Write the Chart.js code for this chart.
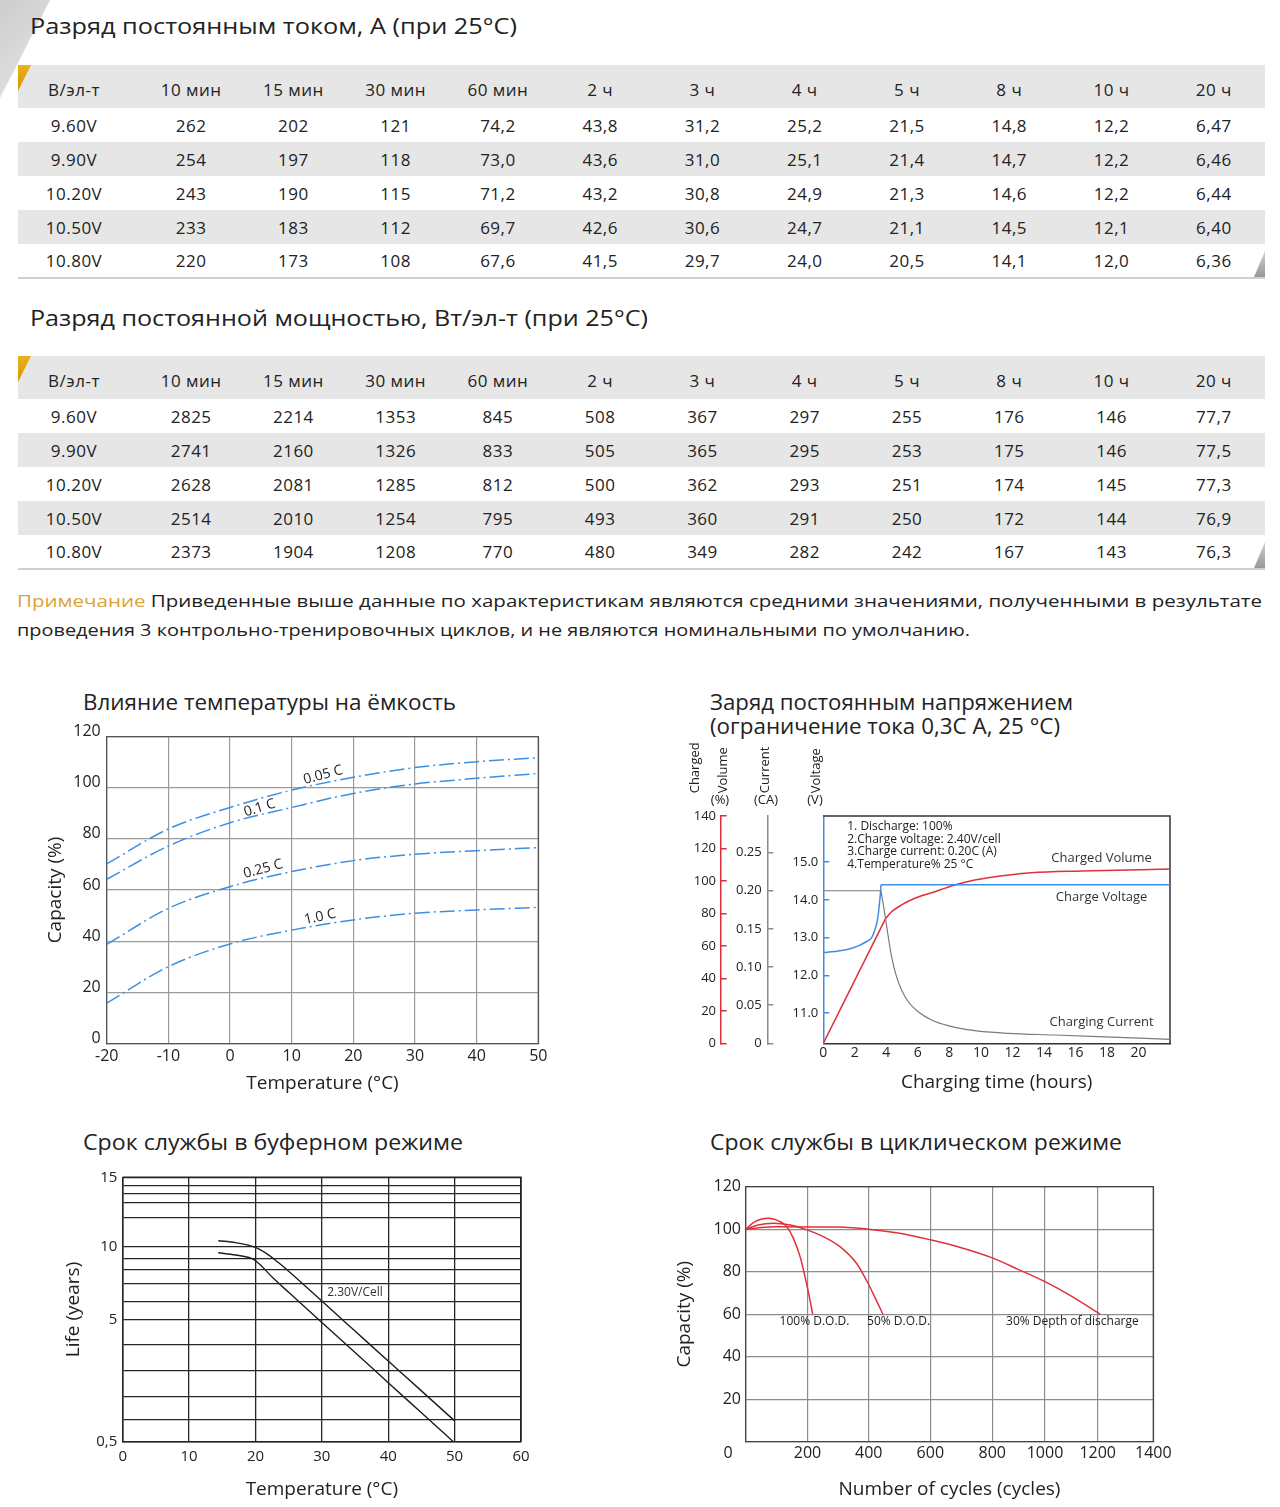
<!DOCTYPE html>
<html lang="ru">
<head>
<meta charset="utf-8">
<title>Разрядные и зарядные характеристики</title>
<script src="https://cdn.jsdelivr.net/npm/chart.js@4.4.1/dist/chart.umd.min.js"></script>
<style>
  html, body { margin: 0; padding: 0; }
  body {
    width: 1280px; height: 1507px; position: relative; overflow: hidden;
    background: #fff; color: #222; font-family: 'Open Sans', sans-serif;
  }
  .txt { position: absolute; white-space: nowrap; line-height: 1; transform-origin: 0 50%; }
  .h1 { font-size: 21px; }
  .note { font-size: 17px; }
  .note span { color: #d9a43a; }
  .corner { position: absolute; left: 0; top: 0; width: 50px; height: 98px;
    background: linear-gradient(135deg, #cdcdcd, #e6e6e6); clip-path: polygon(0 0, 100% 0, 0 100%); }
  .gold { position: absolute; left: 18px; width: 13px; height: 26px;
    background: linear-gradient(180deg, #eab21c, #d39600); clip-path: polygon(0 0, 100% 0, 0 100%); }
  .tail { position: absolute; left: 1254px; width: 11px; height: 26px;
    background: linear-gradient(180deg, #d0d0d0, #979797); clip-path: polygon(100% 0, 100% 100%, 0 100%); }
  table.grid { position: absolute; left: 18px; width: 1247px; border-collapse: collapse;
    table-layout: fixed; font-size: 17px; letter-spacing: 0.5px; }
  table.grid th, table.grid td { text-align: center; font-weight: normal; padding: 0; white-space: nowrap; }
  table.grid tr.head { height: 43px; }
  table.grid tr.head th { background: #e6e6e6; padding-top: 5px; }
  table.grid tbody tr { height: 34px; }
  table.grid tbody tr:nth-child(even) td { background: #e6e6e6; }
  table.grid tbody tr:last-child td { border-bottom: 2px solid #d0d0d0; }
  table.grid .first { padding-right: 10px; }
  canvas { position: absolute; }
</style>
</head>
<body>
<div class="corner"></div>

<div class="txt h1" style="left:30px; top:16px" data-w="487">Разряд постоянным током, А (при 25°C)</div>
<table class="grid" id="tblCurrent" style="top:65px"></table>
<div class="gold" style="top:65px"></div>
<div class="tail" style="top:251px"></div>

<div class="txt h1" style="left:30px; top:308px" data-w="618">Разряд постоянной мощностью, Вт/эл-т (при 25°C)</div>
<table class="grid" id="tblPower" style="top:356px"></table>
<div class="gold" style="top:356px"></div>
<div class="tail" style="top:542px"></div>

<div class="txt note" style="left:17px; top:592px" data-w="1245"><span>Примечание</span> Приведенные выше данные по характеристикам являются средними значениями, полученными в результате</div>
<div class="txt note" style="left:17px; top:621px" data-w="953">проведения 3 контрольно-тренировочных циклов, и не являются номинальными по умолчанию.</div>

<div class="txt h1" style="left:83px; top:692px" data-w="373">Влияние температуры на ёмкость</div>
<div class="txt h1" style="left:710px; top:692px" data-w="363">Заряд постоянным напряжением</div>
<div class="txt h1" style="left:710px; top:716px" data-w="350">(ограничение тока 0,3С А, 25 °С)</div>
<div class="txt h1" style="left:83px; top:1132px" data-w="380">Срок службы в буферном режиме</div>
<div class="txt h1" style="left:710px; top:1132px" data-w="412">Срок службы в циклическом режиме</div>

<canvas id="tempChart" width="520" height="380" style="left:40px; top:720px"></canvas>
<canvas id="chargeChart" width="500" height="360" style="left:680px; top:740px"></canvas>
<canvas id="floatChart" width="500" height="345" style="left:40px; top:1160px"></canvas>
<canvas id="cycleChart" width="510" height="335" style="left:670px; top:1170px"></canvas>

<script>
// ---- tables ----
const headCells = ['В/эл-т', '10 мин', '15 мин', '30 мин', '60 мин', '2 ч', '3 ч', '4 ч', '5 ч', '8 ч', '10 ч', '20 ч'];
const endVoltages = ['9.60V', '9.90V', '10.20V', '10.50V', '10.80V'];
const currentA = [
    ['262', '202', '121', '74,2', '43,8', '31,2', '25,2', '21,5', '14,8', '12,2', '6,47'],
    ['254', '197', '118', '73,0', '43,6', '31,0', '25,1', '21,4', '14,7', '12,2', '6,46'],
    ['243', '190', '115', '71,2', '43,2', '30,8', '24,9', '21,3', '14,6', '12,2', '6,44'],
    ['233', '183', '112', '69,7', '42,6', '30,6', '24,7', '21,1', '14,5', '12,1', '6,40'],
    ['220', '173', '108', '67,6', '41,5', '29,7', '24,0', '20,5', '14,1', '12,0', '6,36']
];
const powerW = [
    ['2825', '2214', '1353', '845', '508', '367', '297', '255', '176', '146', '77,7'],
    ['2741', '2160', '1326', '833', '505', '365', '295', '253', '175', '146', '77,5'],
    ['2628', '2081', '1285', '812', '500', '362', '293', '251', '174', '145', '77,3'],
    ['2514', '2010', '1254', '795', '493', '360', '291', '250', '172', '144', '76,9'],
    ['2373', '1904', '1208', '770', '480', '349', '282', '242', '167', '143', '76,3']
];

// ---- temperature vs capacity ----
const tempC = [-20, -10, 0, 10, 20, 30, 40, 50];
const cap005C = [70.2, 83.9, 92.3, 99.1, 104.1, 107.9, 110.2, 111.8];
const cap01C = [64.2, 77.2, 86.3, 92.3, 97.8, 101.5, 103.7, 105.6];
const cap025C = [38.7, 52.8, 61.3, 67.2, 71.5, 74.0, 75.4, 76.6];
const cap10C = [15.7, 30.0, 38.9, 44.3, 48.3, 50.9, 52.2, 53.2];

// ---- constant voltage charge ----
const hourTicks = [0, 2, 4, 6, 8, 10, 12, 14, 16, 18, 20];
const volumeTicks = [0, 20, 40, 60, 80, 100, 120, 140];
const currentTicks = [0, 0.05, 0.10, 0.15, 0.20, 0.25];
const voltageTicks = [11, 12, 13, 14, 15];
const volumeRampTime = [0, 3.95];
const volumeRamp = [0, 76.8];
const volumeTime = [3.95, 4.33, 4.97, 5.81, 6.87, 8.35, 9.61, 10.46, 13.2, 16.4, 22];
const volumeValue = [76.8, 81.0, 85.2, 89.3, 92.7, 97.5, 100.6, 102.0, 105.0, 106.1, 107.3];
const voltRiseTime = [0, 0.74, 1.58, 2.22, 2.64, 3.07, 3.27, 3.45, 3.55, 3.62, 3.66];
const voltRise = [12.60, 12.63, 12.69, 12.78, 12.87, 13.0, 13.2, 13.5, 13.85, 14.15, 14.4];
const voltHoldTime = [3.66, 22];
const voltHold = [14.4, 14.4];
const currFlatTime = [0, 3.66];
const currFlat = [0.20, 0.20];
const currDecayTime = [3.66, 3.90, 4.12, 4.33, 4.65, 4.97, 5.39, 6.02, 6.87, 7.92, 9.61, 11.72, 14.68, 17.43, 22];
const currDecay = [0.20, 0.170, 0.140, 0.114, 0.087, 0.070, 0.0545, 0.0414, 0.0306, 0.0231, 0.0165, 0.0131, 0.0109, 0.0088, 0.0052];

// ---- float life ----
const floatGrid = [0.5, 1.33, 2.16, 3.14, 4.10, 5, 6.25, 7.48, 8.41, 9.18, 10, 12.09, 13.2, 13.85, 14.39, 15];
const floatTickText = { 0.5: '0,5', 5: '5', 10: '10', 15: '15' };
const lifeUpperTemp = [14.4, 17, 20, 22, 23.5, 25, 30, 35, 40, 45, 50];
const lifeUpper = [10.43, 10.29, 9.95, 9.43, 8.9, 8.33, 6.29, 4.59, 3.48, 2.38, 1.27];
const lifeLowerTemp = [14.4, 17, 19.7, 20.9, 22.7, 25, 30, 35, 40, 45, 49.8];
const lifeLower = [9.59, 9.43, 9.14, 8.68, 7.84, 6.89, 4.91, 3.80, 2.68, 1.57, 0.5];

// ---- cycle life ----
const cycleTicks = [0, 200, 400, 600, 800, 1000, 1200, 1400];
const dod100Cycles = [0, 30, 73, 111, 133, 154, 176, 192, 206, 217];
const dod100Cap = [100, 103.6, 105.2, 103.6, 101.2, 95.8, 87.1, 77.7, 68.3, 60];
const dod50Cycles = [0, 40, 90, 144, 198, 252, 306, 360, 392, 419, 446];
const dod50Cap = [100, 102, 102.8, 102, 99.7, 96.5, 91.8, 84, 76.1, 68.3, 60];
const dod30Cycles = [0, 90, 300, 400, 500, 600, 700, 800, 900, 1000, 1100, 1209];
const dod30Cap = [100, 101.2, 101, 100, 98.1, 95, 91.3, 86.5, 81, 75.3, 68.5, 60];

const blue = '#3d8fe3';
const red = '#e0303a';
const gray = '#7a7a7a';

function pts(xs, ys) {
    return xs.map((x, i) => ({ x: x, y: ys[i] }));
}

function buildTable(id, rows) {
    let html = '<colgroup><col style="width:122px">' + '<col>'.repeat(11) + '</colgroup>';
    html += '<thead><tr class="head">' + headCells.map((h, i) => '<th' + (i === 0 ? ' class="first"' : '') + '>' + h + '</th>').join('') + '</tr></thead><tbody>';
    rows.forEach((r, i) => {
        html += '<tr><td class="first">' + endVoltages[i] + '</td>' + r.map(v => '<td>' + v + '</td>').join('') + '</tr>';
    });
    document.getElementById(id).innerHTML = html + '</tbody>';
}
buildTable('tblCurrent', currentA);
buildTable('tblPower', powerW);

// the source font is wider than any installed one: stretch headings to their width
function fitText() {
    document.querySelectorAll('[data-w]').forEach(el => {
        el.style.transform = 'none';
        const w = el.getBoundingClientRect().width;
        el.style.transform = 'scaleX(' + (parseFloat(el.dataset.w) / w).toFixed(4) + ')';
    });
}
fitText();
document.fonts.ready.then(fitText);

// scale whose value-to-pixel mapping is piecewise linear between break values
class PiecewiseScale extends Chart.LinearScale {
    static id = 'piecewise';
    getPixelForValue(value) {
        const vs = this.options.breaks, fs = this.options.breakPos;
        let i = 0;
        while (i < vs.length - 2 && value > vs[i + 1]) i++;
        const f = fs[i] + (value - vs[i]) / (vs[i + 1] - vs[i]) * (fs[i + 1] - fs[i]);
        return this.getPixelForDecimal(f);
    }
    getValueForPixel(pixel) {
        const d = this.getDecimalForPixel(pixel);
        const vs = this.options.breaks, fs = this.options.breakPos;
        let i = 0;
        while (i < fs.length - 2 && d > fs[i + 1]) i++;
        return vs[i] + (d - fs[i]) / (fs[i + 1] - fs[i]) * (vs[i + 1] - vs[i]);
    }
}
Chart.register(PiecewiseScale);

Chart.defaults.font.family = "'Open Sans', sans-serif";
Chart.defaults.color = '#222';
Chart.defaults.animation = false;
Chart.defaults.plugins.legend.display = false;
Chart.defaults.plugins.tooltip.enabled = false;
Chart.defaults.elements.point.radius = 0;

// top and right edge of the plot box
function frame(color, width) {
    return {
        id: 'frame',
        beforeDatasetsDraw(chart) {
            const { ctx, chartArea: a } = chart;
            ctx.save();
            ctx.strokeStyle = color;
            ctx.lineWidth = width;
            ctx.beginPath();
            ctx.moveTo(a.left, a.top);
            ctx.lineTo(a.right, a.top);
            ctx.lineTo(a.right, a.bottom);
            ctx.stroke();
            ctx.restore();
        }
    };
}

// text notes placed in data coordinates (or canvas pixels with px/py)
function notes(items) {
    return {
        id: 'notes',
        afterDatasetsDraw(chart) {
            const ctx = chart.ctx;
            items.forEach(it => {
                let x = it.px, y = it.py;
                if (x === undefined) {
                    x = chart.scales[it.xAxis || 'x'].getPixelForValue(it.x) + (it.dx || 0);
                    y = chart.scales[it.yAxis || 'y'].getPixelForValue(it.y) + (it.dy || 0);
                }
                ctx.save();
                ctx.translate(x, y);
                ctx.rotate((it.rot || 0) * Math.PI / 180);
                ctx.font = (it.size || 12) + "px 'Open Sans', sans-serif";
                ctx.fillStyle = it.color || '#222';
                ctx.textAlign = it.align || 'center';
                ctx.textBaseline = 'middle';
                ctx.fillText(it.text, 0, 0);
                ctx.restore();
            });
        }
    };
}

function curve(data, color, extra) {
    return Object.assign({
        data: data, borderColor: color, borderWidth: 1.5, fill: false,
        cubicInterpolationMode: 'monotone', pointRadius: 0
    }, extra || {});
}
const straight = { tension: 0, cubicInterpolationMode: 'default' };

// ---- chart 1 ----
const dashStyle = { borderDash: [15, 4, 2, 4] };
new Chart(document.getElementById('tempChart'), {
    type: 'line',
    data: {
        datasets: [
            curve(pts(tempC, cap005C), blue, dashStyle),
            curve(pts(tempC, cap01C), blue, dashStyle),
            curve(pts(tempC, cap025C), blue, dashStyle),
            curve(pts(tempC, cap10C), blue, dashStyle)
        ]
    },
    options: {
        responsive: false,
        layout: { padding: { top: 16.7, right: 21.7, left: 0, bottom: 0 } },
        scales: {
            x: {
                type: 'linear', min: -20, max: 50,
                ticks: { stepSize: 10, font: { size: 16 }, padding: 3.2, maxRotation: 0, autoSkip: false },
                grid: { color: '#9a9a9a', lineWidth: 1.2, drawTicks: false },
                border: { color: '#555', width: 1.3 },
                title: { display: true, text: 'Temperature (°C)', font: { size: 19 }, padding: { top: 0, bottom: 5.3 } },
                afterFit: s => { s.height = 56.7; }
            },
            y: {
                min: 0, max: 120,
                ticks: { stepSize: 20, font: { size: 16 }, padding: 6, labelOffset: -5, autoSkip: false },
                grid: { color: '#9a9a9a', lineWidth: 1.2, drawTicks: false },
                border: { color: '#555', width: 1.3 },
                title: { display: true, text: 'Capacity (%)', font: { size: 19 }, padding: { top: 4.3, bottom: 0 } },
                afterFit: s => { s.width = 66.7; }
            }
        }
    },
    plugins: [frame('#555', 1.3), notes([
        { x: 15.1, y: 105, text: '0.05 C', rot: -15, size: 14 },
        { x: 4.8, y: 92.1, text: '0.1 C', rot: -17, size: 14 },
        { x: 5.35, y: 68.2, text: '0.25 C', rot: -15, size: 14 },
        { x: 14.6, y: 49.5, text: '1.0 C', rot: -12, size: 14 }
    ])]
});

// ---- chart 2 ----
function sideAxis(color, weight, min, max, tickList, width, pad, fmt) {
    return {
        position: 'left', weight: weight, min: min, max: max,
        afterBuildTicks: s => { s.ticks = tickList.map(v => ({ value: v })); },
        ticks: { font: { size: 13 }, padding: pad, autoSkip: false, callback: fmt },
        grid: { drawOnChartArea: false, color: color, lineWidth: 1.5, tickLength: -6 },
        border: { color: color, width: 1.5 },
        afterFit: s => { s.width = width; }
    };
}
new Chart(document.getElementById('chargeChart'), {
    type: 'line',
    data: {
        datasets: [
            curve(pts(currFlatTime, currFlat), gray, Object.assign({ yAxisID: 'yCur', borderWidth: 1.2 }, straight)),
            curve(pts(currDecayTime, currDecay), gray, { yAxisID: 'yCur', borderWidth: 1.2 }),
            curve(pts(voltRiseTime, voltRise), blue, { yAxisID: 'yV' }),
            curve(pts(voltHoldTime, voltHold), blue, Object.assign({ yAxisID: 'yV' }, straight)),
            curve(pts(volumeRampTime, volumeRamp), red, Object.assign({ yAxisID: 'yVol' }, straight)),
            curve(pts(volumeTime, volumeValue), red, { yAxisID: 'yVol' })
        ]
    },
    options: {
        responsive: false,
        layout: { padding: { top: 76, right: 10, left: 0, bottom: 0 } },
        scales: {
            x: {
                type: 'linear', min: 0, max: 22,
                afterBuildTicks: s => { s.ticks = hourTicks.map(v => ({ value: v })); },
                ticks: { font: { size: 14 }, padding: 1.6, maxRotation: 0, autoSkip: false },
                grid: { display: false, drawTicks: false },
                border: { color: '#333', width: 1.5 },
                title: { display: true, text: 'Charging time (hours)', font: { size: 19 }, padding: { top: 0, bottom: 5.6 } },
                afterFit: s => { s.height = 56.7; }
            },
            yVol: sideAxis(red, 2, 0, 140, volumeTicks, 40.7, 10.7, v => String(v)),
            yCur: sideAxis('#8a8a8a', 1, 0, 0.298, currentTicks, 46.6, 11.6, v => v === 0 ? '0' : v.toFixed(2)),
            yV: sideAxis(blue, 0, 10.2, 16.22, voltageTicks, 56, 11, v => v.toFixed(1))
        }
    },
    plugins: [frame('#333', 1.5), notes([
        { px: 15, py: 53.3, text: 'Charged', rot: -90, align: 'left', size: 13 },
        { px: 43.3, py: 53.3, text: 'Volume', rot: -90, align: 'left', size: 13 },
        { px: 85, py: 53.3, text: 'Current', rot: -90, align: 'left', size: 13 },
        { px: 136.7, py: 53.3, text: 'Voltage', rot: -90, align: 'left', size: 13 },
        { px: 40, py: 60, text: '(%)', size: 13 },
        { px: 86, py: 60, text: '(CA)', size: 13 },
        { px: 135, py: 60, text: '(V)', size: 13 },
        { x: 1.52, y: 133.4, yAxis: 'yVol', text: '1. Discharge: 100%', align: 'left', size: 12 },
        { x: 1.52, y: 125.6, yAxis: 'yVol', text: '2.Charge voltage: 2.40V/cell', align: 'left', size: 12 },
        { x: 1.52, y: 117.8, yAxis: 'yVol', text: '3.Charge current: 0.20C (A)', align: 'left', size: 12 },
        { x: 1.52, y: 110.0, yAxis: 'yVol', text: '4.Temperature% 25 °C', align: 'left', size: 12 },
        { x: 17.66, y: 113.9, yAxis: 'yVol', text: 'Charged Volume', size: 13, color: '#333' },
        { x: 17.66, y: 14.06, yAxis: 'yV', text: 'Charge Voltage', size: 13, color: '#333' },
        { x: 17.66, y: 0.027, yAxis: 'yCur', text: 'Charging Current', size: 13, color: '#333' }
    ])]
});

// ---- chart 3 ----
new Chart(document.getElementById('floatChart'), {
    type: 'line',
    data: {
        datasets: [
            curve(pts(lifeUpperTemp, lifeUpper), '#1e1e1e', { borderWidth: 1.4 }),
            curve(pts(lifeLowerTemp, lifeLower), '#1e1e1e', { borderWidth: 1.4 })
        ]
    },
    options: {
        responsive: false,
        layout: { padding: { top: 17.3, right: 19, left: 0, bottom: 0 } },
        scales: {
            x: {
                type: 'linear', min: 0, max: 60,
                ticks: { stepSize: 10, font: { size: 15 }, padding: 6, maxRotation: 0, autoSkip: false },
                grid: { color: '#262626', lineWidth: 1.3, drawTicks: false },
                border: { color: '#222', width: 1.5 },
                title: { display: true, text: 'Temperature (°C)', font: { size: 19 }, padding: { top: 0, bottom: 3.6 } },
                afterFit: s => { s.height = 63.3; }
            },
            y: {
                type: 'piecewise', min: 0.5, max: 15,
                breaks: [0.5, 5, 10, 15], breakPos: [0, 0.4603, 0.7375, 1],
                afterBuildTicks: s => { s.ticks = floatGrid.map(v => ({ value: v })); },
                ticks: { font: { size: 15 }, padding: 5.4, autoSkip: false, callback: v => floatTickText[v] || '' },
                grid: { color: '#262626', lineWidth: 1.3, drawTicks: false },
                border: { color: '#222', width: 1.5 },
                title: { display: true, text: 'Life (years)', font: { size: 19 }, padding: { top: 21.9, bottom: 0 } },
                afterFit: s => { s.width = 82.7; }
            }
        }
    },
    plugins: [frame('#222', 1.5), notes([
        { x: 35, y: 6.84, text: '2.30V/Cell', size: 12, color: '#333' }
    ])]
});

// ---- chart 4 ----
new Chart(document.getElementById('cycleChart'), {
    type: 'line',
    data: {
        datasets: [
            curve(pts(dod100Cycles, dod100Cap), red),
            curve(pts(dod50Cycles, dod50Cap), red),
            curve(pts(dod30Cycles, dod30Cap), red)
        ]
    },
    options: {
        responsive: false,
        layout: { padding: { top: 16.7, right: 26.7, left: 0, bottom: 0 } },
        scales: {
            x: {
                type: 'piecewise', min: 0, max: 1400,
                breaks: cycleTicks, breakPos: [0, 0.1516, 0.3018, 0.4529, 0.6050, 0.7343, 0.8636, 1],
                afterBuildTicks: s => { s.ticks = cycleTicks.map(v => ({ value: v })); },
                ticks: { font: { size: 16 }, padding: 2, maxRotation: 0, autoSkip: false, callback: v => v === 0 ? '' : String(v) },
                grid: { color: '#8c8c8c', lineWidth: 1.2, drawTicks: false },
                border: { color: '#444', width: 1.3 },
                title: { display: true, text: 'Number of cycles (cycles)', font: { size: 19 }, padding: { top: 0, bottom: 4.3 } },
                afterFit: s => { s.height = 63.3; }
            },
            y: {
                min: 0, max: 120,
                ticks: { stepSize: 20, font: { size: 16 }, padding: 4.7, autoSkip: false, callback: v => v === 0 ? '' : String(v) },
                grid: { color: '#8c8c8c', lineWidth: 1.2, drawTicks: false },
                border: { color: '#444', width: 1.3 },
                title: { display: true, text: 'Capacity (%)', font: { size: 19 }, padding: { top: 3.6, bottom: 0 } },
                afterFit: s => { s.width = 75.7; }
            }
        }
    },
    plugins: [frame('#444', 1.3), notes([
        { x: 0, y: 0, dx: -17.7, dy: 11.6, text: '0', size: 16 },
        { x: 223, y: 56.5, text: '100% D.O.D.', size: 12 },
        { x: 497, y: 56.5, text: '50% D.O.D.', size: 12 },
        { x: 1104, y: 56.5, text: '30% Depth of discharge', size: 12 }
    ])]
});
</script>
</body>
</html>
